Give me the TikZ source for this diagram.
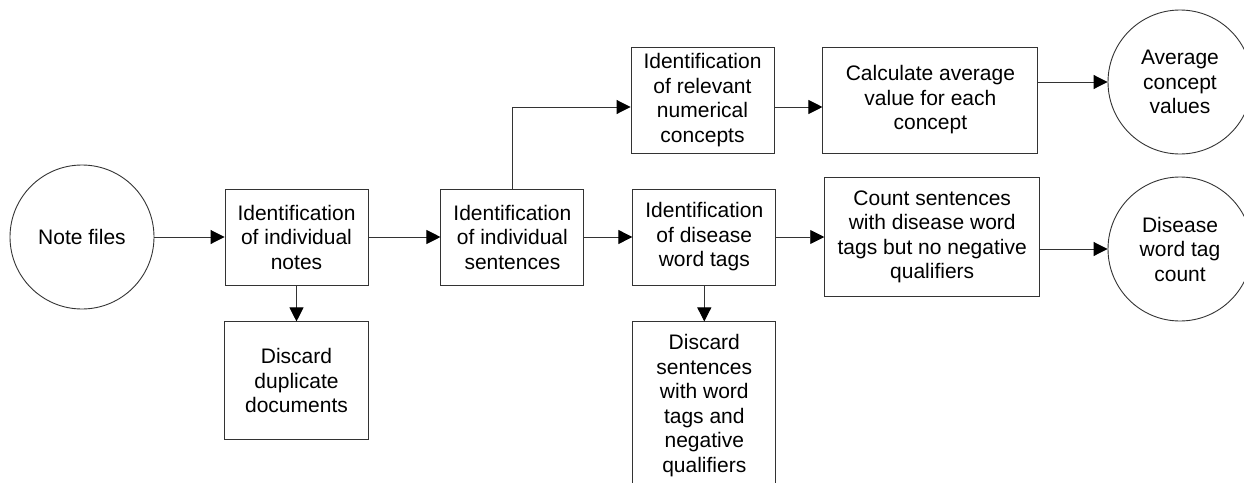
\documentclass[tikz,border=0pt]{standalone}
\usepackage{fontspec}
\setmainfont{Liberation Sans}
\usepackage{tikz}
\usetikzlibrary{arrows.meta,positioning}

\tikzset{
  procbox/.style={draw=black!80, line width=0.9pt, rectangle, align=center, inner sep=0pt,
    minimum width=143pt, minimum height=96pt, font=\fontsize{21}{24.5}\selectfont},
  term/.style={draw=black!80, line width=0.9pt, circle, align=center, inner sep=0pt,
    minimum size=144pt, font=\fontsize{21}{24.5}\selectfont},
  flow/.style={draw=black!80, line width=0.9pt, -{Triangle[length=14pt,width=14pt,color=black]}}
}

\begin{document}
\begin{tikzpicture}[x=1pt,y=-1pt]
\useasboundingbox (0,0) rectangle (1244,482);
% sources and results
\node[term] (note) at (82,237) {Note files};
\node[term] (avg) at (1180,82) {Average\\concept\\values};
\node[term] (dis) at (1180,249) {Disease\\word tag\\count};
% processing steps
\node[procbox] (notes) at (296.5,237) {Identification\\of individual\\notes};
\node[procbox, minimum width=144pt, minimum height=118pt, below=36pt of notes] (dup) {Discard\\duplicate\\documents};
\node[procbox, right=72pt of notes] (sent) {Identification\\of individual\\sentences};
\node[procbox, right=48pt of sent] (tags) {Identification\\of disease\\word tags};
\node[procbox, minimum height=167pt, below=36pt of tags] (drop) {Discard\\sentences\\with word\\tags and\\negative\\qualifiers};
\node[procbox, minimum height=106pt] (num) at (702.5,100) {Identification\\of relevant\\numerical\\concepts};
\node[procbox, minimum width=215pt, minimum height=106pt, right=48pt of num] (calc) {Calculate average\\value for each\\concept};
\node[procbox, minimum width=215pt, minimum height=119pt, right=48pt of tags] (count) {Count sentences\\with disease word\\tags but no negative\\qualifiers};
% connectors
\draw[flow] (note) -- (notes);
\draw[flow] (notes) -- (sent);
\draw[flow] (notes) -- (dup);
\draw[flow] (sent.north) |- ([yshift=-7pt]num.west);
\draw[flow] ([yshift=-7pt]num.east) -- ([yshift=-7pt]calc.west);
\draw[flow] (calc.east |- avg.west) -- (avg.west);
\draw[flow] (sent) -- (tags);
\draw[flow] (tags) -- (drop);
\draw[flow] (tags) -- (count);
\draw[flow] (count.east |- dis.west) -- (dis.west);
\end{tikzpicture}
\end{document}
